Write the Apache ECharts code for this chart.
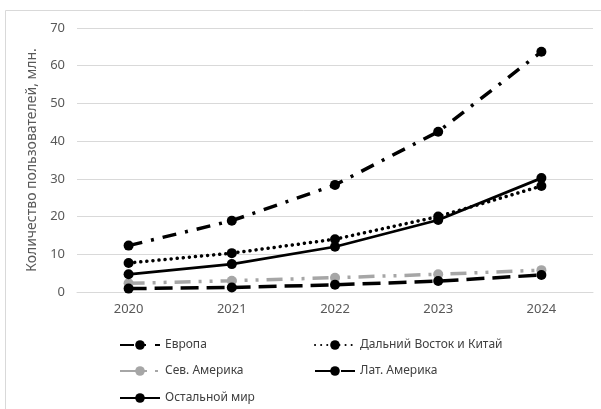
<!DOCTYPE html>
<html><head><meta charset="utf-8">
<script src="https://cdn.jsdelivr.net/npm/echarts@6/dist/echarts.min.js"></script>
<style>html,body{margin:0;padding:0;background:#fff}#c{width:601px;height:409px}</style>
</head><body><div id="c"></div>
<script>
const years = ['2020','2021','2022','2023','2024'];
const europe = [12.3, 18.9, 28.4, 42.5, 63.7];
const farEast = [7.7, 10.3, 14.0, 20.0, 28.1];
const northAm = [2.3, 3.0, 3.8, 4.7, 5.8];
const latAm = [0.9, 1.2, 1.9, 2.9, 4.5];
const rest = [4.7, 7.4, 12.0, 19.1, 30.2];
const names = ['Европа','Дальний Восток и Китай','Сев. Америка','Лат. Америка','Остальной мир'];
const yTicks = [0,10,20,30,40,50,60,70];

const font = 'Noto Sans';
const chart = echarts.init(document.getElementById('c'), null, {renderer:'canvas'});
function mk(name, data, color, type, width, size, cap){
  return {name, type:'line', data, symbol:'circle', symbolSize:size,
    itemStyle:{color:color},
    lineStyle:{color:color, width:width, type:type, cap:cap||'butt'}, z:2};
}
const series = [
  mk(names[0], europe, '#000', [14,9,3,9], 3.5, 10),
  mk(names[1], farEast, '#000', [0.1,6], 3.5, 10, 'round'),
  mk(names[2], northAm, '#a6a6a6', [16,8,3,8,3,8], 3.5, 10),
  mk(names[3], latAm, '#000', [18,8], 3.5, 10),
  mk(names[4], rest, '#000', 'solid', 2.75, 10)
];
const legPos = [[114,334],[309,334],[114,360],[309,360],[114,387]];
const legends = names.map((n,i)=>({data:[n], left:legPos[i][0], top:legPos[i][1], itemWidth:40, itemHeight:12, itemGap:5,
  textStyle:{fontFamily:font, fontSize:12, color:'#404040'}}));
chart.setOption({
  animation:false,
  backgroundColor:'#fff',
  graphic:[{type:'rect', shape:{x:5.5,y:10.5,width:600,height:420}, style:{fill:'none', stroke:'#d9d9d9', lineWidth:1}}],
  grid:{left:77, right:8, top:28, bottom:117, containLabel:false},
  legend: legends,
  xAxis:{type:'category', data:years, boundaryGap:true,
    axisLine:{show:true, lineStyle:{color:'#d9d9d9'}}, axisTick:{show:false},
    axisLabel:{color:'#595959', fontFamily:font, fontSize:13, margin:11}},
  yAxis:{type:'value', min:yTicks[0], max:yTicks[yTicks.length-1], interval:10,
    name:'Количество пользователей, млн.', nameLocation:'middle', nameGap:35, nameRotate:90,
    nameTextStyle:{color:'#595959', fontFamily:font, fontSize:14},
    axisLine:{show:false}, axisTick:{show:false},
    axisLabel:{color:'#595959', fontFamily:font, fontSize:13, margin:12},
    splitLine:{lineStyle:{color:'#d9d9d9', width:1}}},
  series
});
</script></body></html>
